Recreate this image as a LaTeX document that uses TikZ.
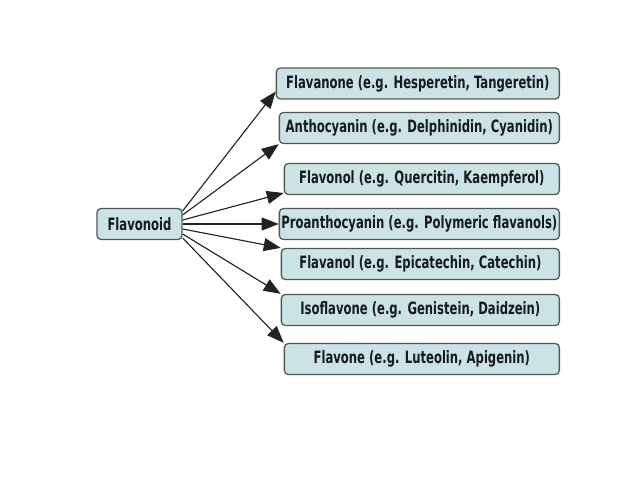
\documentclass[tikz,border=0pt]{standalone}
\usepackage{fontspec}
\newfontfamily\boxfont{DejaVu Sans Condensed}[FakeStretch=0.76]
\usetikzlibrary{arrows.meta}
\definecolor{boxfill}{HTML}{CCE3E6}
\definecolor{boxline}{HTML}{4F5959}
\definecolor{textdark}{HTML}{161A1A}
\definecolor{arrowgray}{HTML}{222222}
\tikzset{
  classbox/.style={
    rectangle, rounded corners=4pt, draw=boxline, line width=1.3pt,
    fill=boxfill, minimum height=31pt, inner sep=1pt,
    font=\boxfont\bfseries\fontsize{17}{19}\selectfont, text=textdark
  },
  fanarrow/.style={-{Triangle[length=17pt,width=13pt]}, line width=1.1pt, draw=arrowgray, fill=black}
}

\begin{document}
\begin{tikzpicture}[x=1pt,y=-1pt]
\useasboundingbox (0,0) rectangle (638,479);
% source class
\node[classbox, minimum width=85pt] (flav) at (139.5,224) {Flavonoid};
% subclasses, right edges aligned
\node[classbox, anchor=east, minimum width=283pt] (b1) at (560,83.5) {Flavanone (e.g. Hesperetin, Tangeretin)};
\node[classbox, anchor=east, minimum width=280pt] (b2) at (560,128) {Anthocyanin (e.g. Delphinidin, Cyanidin)};
\node[classbox, anchor=east, minimum width=275pt] (b3) at (560,179) {Flavonol (e.g. Quercitin, Kaempferol)};
\node[classbox, anchor=east, minimum width=280pt] (b4) at (560,224) {Proanthocyanin (e.g. Polymeric flavanols)};
\node[classbox, anchor=east, minimum width=278pt] (b5) at (560,264) {Flavanol (e.g. Epicatechin, Catechin)};
\node[classbox, anchor=east, minimum width=278pt] (b6) at (560,310) {Isoflavone (e.g. Genistein, Daidzein)};
\node[classbox, anchor=east, minimum width=275pt] (b7) at (560,359) {Flavone (e.g. Luteolin, Apigenin)};
% fan of arrows
\draw[fanarrow] ([yshift=13pt]flav.east) -- ([yshift=-8pt]b1.west);
\draw[fanarrow] ([yshift=9pt]flav.east) -- (b2.south west);
\draw[fanarrow] ([yshift=4pt]flav.east) -- ([yshift=-14pt]b3.west);
\draw[fanarrow] (flav.east) -- (b4.west);
\draw[fanarrow] ([yshift=-5pt]flav.east) -- (b5.north west);
\draw[fanarrow] ([yshift=-10pt]flav.east) -- (b6.north west);
\draw[fanarrow] ([yshift=-14pt]flav.east) -- (b7.north west);
\end{tikzpicture}
\end{document}
